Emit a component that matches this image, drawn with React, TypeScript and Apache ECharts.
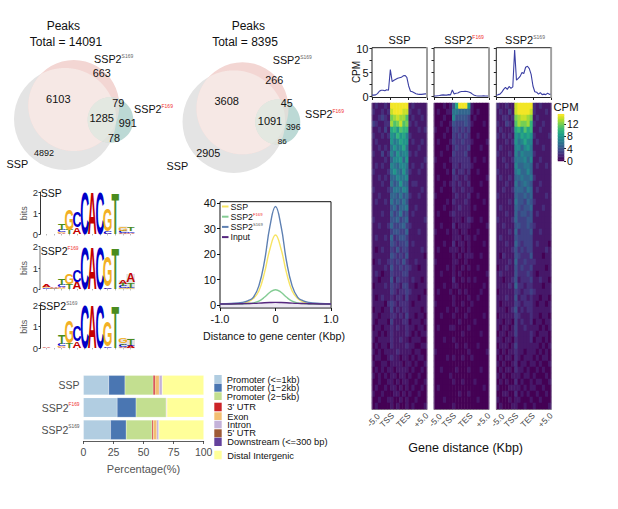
import React, { useEffect, useRef } from "react";
import * as echarts from "echarts";

const FONT = "Liberation Sans";
const VIRIDIS = ["#440154", "#482878", "#3e4989", "#31688e", "#26828e", "#1f9e89", "#35b779", "#6ece58", "#b5de2b", "#fde725"];

// ---------- annotation bars
const barCategories = ["SSP", "SSP2F169", "SSP2S169"];
const featureNames = ["Promoter (<=1kb)", "Promoter (1\u22122kb)", "Promoter (2\u22125kb)", "3' UTR", "Exon", "Intron", "5' UTR", "Downstream (<=300 bp)", "Distal Intergenic"];
const featureColors = ["#b1cde1", "#4a76b2", "#c3df90", "#cc2428", "#f3be72", "#c4b2d9", "#9e5a36", "#63419c", "#ffff99"];
const promoter1 = [21, 28, 22.5];
const promoter2 = [13.5, 15.7, 13];
const promoter5 = [23.5, 25, 21.5];
const utr3 = [1.5, 0.3, 1];
const exon = [3.5, 0.4, 3];
const intron = [2.5, 0.1, 1.7];
const utr5 = [0.1, 0, 0.1];
const downstream = [0, 0, 0];
const distal = [34.4, 30.5, 37.2];
const featureValues = [promoter1, promoter2, promoter5, utr3, exon, intron, utr5, downstream, distal];

// ---------- peak profile
const peakX = [-1, -0.8, -0.6, -0.5, -0.4, -0.3, -0.2, -0.1, 0, 0.1, 0.2, 0.3, 0.4, 0.5, 0.6, 0.8, 1];
const peakSSP = [0.3, 0.4, 0.7, 1.2, 2.5, 5.5, 12.5, 22, 27.5, 22, 12.5, 5.5, 2.5, 1.2, 0.7, 0.4, 0.3];
const peakF169 = [0.3, 0.3, 0.4, 0.5, 0.8, 1.5, 3, 5, 6, 5, 3, 1.5, 0.8, 0.5, 0.4, 0.3, 0.3];
const peakS169 = [0.4, 0.6, 1, 1.6, 3, 7.5, 17, 31, 38.7, 31, 17, 7.5, 3, 1.6, 1, 0.6, 0.4];
const peakInput = [0.4, 0.4, 0.5, 0.55, 0.6, 0.7, 0.85, 0.95, 1, 0.95, 0.85, 0.7, 0.6, 0.55, 0.5, 0.4, 0.4];

// ---------- gene-body CPM profiles
const profileSSP = [0.3, 0.3, 0.35, 0.6, 1.1, 1.3, 1.3, 1.2, 1.4, 1.3, 5.6, 3.1, 3.4, 3.6, 3.8, 3.9, 4.0, 4.3, 4.4, 4.0, 2.2, 1.1, 1.0, 0.8, 0.6, 0.5, 0.45, 0.45, 0.5, 0.55, 0.55];
const profileF169 = [0.1, 0.1, 0.15, 0.2, 0.3, 0.35, 0.3, 0.3, 0.4, 0.35, 1.35, 0.55, 0.7, 0.75, 0.95, 1.05, 1.05, 1.1, 1.05, 0.95, 0.8, 0.5, 0.25, 0.15, 0.1, 0.1, 0.12, 0.15, 0.12, 0.1, 0.1];
const profileS169 = [0.2, 0.4, 0.5, 0.9, 1.5, 1.9, 1.5, 2.1, 1.7, 2.0, 9.7, 3.4, 3.8, 4.2, 5.0, 4.8, 6.1, 6.3, 5.8, 4.6, 2.2, 1.0, 0.9, 0.5, 0.8, 0.4, 0.5, 0.4, 0.7, 0.45, 0.5];
const geneTicks = ["-5.0", "TSS", "TES", "+5.0"];

// ---------- heatmaps (rows top to bottom, 18 bins across -5 kb .. +5 kb)
const heatSSP = [
  [1,2,1,1,2,1,15,15,15,15,15,15,1,2,1,1,1,1],[2,1,1,2,1,2,14,15,15,15,14,14,2,1,1,2,1,1],[1,1,2,3,2,1,12,13,14,13,13,11,1,2,1,1,2,1],
  [3,2,1,1,2,2,13,11,12,14,11,12,2,1,2,1,1,1],[1,1,2,1,3,1,9,10,8,11,10,10,1,1,1,2,1,2],[2,1,1,2,1,2,8,7,10,8,9,7,2,1,1,1,1,1],
  [1,2,1,1,1,1,8,6,7,9,8,8,1,2,1,1,2,1],[1,1,2,1,2,1,6,8,6,7,9,6,1,1,1,2,1,1],[2,1,1,3,1,2,7,5,8,6,7,7,2,1,2,1,1,1],
  [1,1,1,1,2,1,5,7,7,8,5,8,1,1,1,1,1,2],[1,2,1,2,1,1,7,6,5,7,7,6,1,2,1,1,2,1],[2,1,1,1,1,2,6,8,6,5,8,5,2,1,1,2,1,1],
  [1,1,2,1,2,1,5,5,7,6,6,7,1,1,1,1,1,1],[1,1,1,2,1,1,6,4,5,8,5,5,1,2,2,1,1,1],[2,1,1,1,1,2,4,6,6,5,7,6,1,1,1,1,2,1],
  [1,1,2,1,1,1,5,5,4,6,4,5,2,1,1,2,1,1],[1,2,1,1,2,1,6,4,5,4,6,4,1,1,1,1,1,1],[1,1,1,1,1,1,4,5,3,5,5,6,1,1,2,1,1,1],
  [1,1,1,2,1,1,5,3,4,6,3,4,1,2,1,1,1,1],[2,1,1,1,1,1,4,4,5,3,4,5,1,1,1,1,1,2],[1,1,2,1,1,2,5,3,3,4,5,3,2,1,1,1,1,1],
  [1,1,1,1,1,1,3,4,4,3,3,5,1,1,1,2,1,1],[1,2,1,1,2,1,5,2,3,4,4,3,1,1,1,1,1,1],[1,1,1,1,1,1,4,3,2,3,3,4,1,2,1,1,1,1],
  [1,0,1,2,1,1,3,2,4,2,3,3,1,1,1,1,2,1],[1,1,1,1,1,1,4,3,2,3,2,4,1,1,1,1,1,0],[0,1,2,1,1,2,3,2,3,2,4,2,1,1,2,1,1,1],
  [1,1,1,1,2,1,4,2,2,3,2,3,2,1,1,0,1,1],[1,2,1,0,1,1,3,2,2,2,3,3,1,1,1,1,1,1],[1,1,0,1,1,1,4,1,3,2,2,2,1,2,1,1,0,1],
  [0,1,1,1,2,1,3,2,2,1,3,3,1,1,0,1,1,1],[1,1,1,1,1,1,3,2,1,2,2,3,2,1,1,1,1,0],[1,0,1,2,1,1,2,1,2,2,1,3,1,1,1,0,1,1],
  [1,1,1,1,0,2,3,2,1,2,2,2,1,0,1,1,1,1],[0,1,1,0,1,1,3,1,2,1,2,2,1,1,1,1,0,1],[1,1,0,1,1,1,2,2,1,2,1,3,1,1,0,1,1,0],
  [1,0,1,1,1,0,3,1,1,1,2,2,0,1,1,1,0,1],[0,1,1,0,1,1,2,1,2,1,1,2,1,1,0,1,1,0],[1,1,0,1,0,1,2,1,1,1,1,2,1,0,1,0,1,1],
  [1,0,1,1,1,1,2,1,1,2,1,1,0,1,1,1,0,0],[0,1,0,1,1,0,2,1,1,1,1,2,1,1,0,0,1,1],[1,0,1,0,1,1,1,1,2,1,1,1,1,0,1,1,0,0],
  [0,1,1,0,0,1,2,1,1,0,1,1,0,1,0,1,1,0],[1,0,0,1,1,0,1,1,1,1,0,1,1,0,1,0,0,1],[0,1,0,1,0,1,1,0,1,1,1,1,0,1,0,0,1,0],
  [1,0,1,0,1,0,1,1,0,1,1,0,1,0,0,1,0,0],[0,0,1,0,0,1,1,0,1,0,1,1,0,0,1,0,0,1],[0,1,0,0,1,0,1,1,0,1,0,1,0,1,0,0,1,0],
  [1,0,0,1,0,0,0,1,1,0,1,0,1,0,0,1,0,0],[0,0,1,0,0,1,1,0,0,1,0,1,0,0,1,0,0,0],[0,1,0,0,0,0,1,0,1,0,0,1,0,1,0,0,0,1],
];
const heatF169 = [
  [0,0,0,1,0,1,4,9,15,15,15,8,1,0,0,0,0,0],[0,1,0,0,1,1,6,6,5,5,5,5,1,0,1,0,0,0],[0,0,0,1,0,0,7,4,4,4,4,3,0,1,0,0,0,0],
  [0,0,1,0,0,1,4,3,3,3,4,3,1,0,0,0,1,0],[1,0,0,0,1,0,3,3,2,3,2,3,0,0,0,0,0,0],[0,0,0,1,0,0,3,2,3,2,3,2,0,0,1,0,0,0],
  [0,1,0,0,0,1,3,2,2,3,2,2,1,0,0,0,0,1],[0,0,0,0,1,0,2,3,2,2,2,3,0,0,0,1,0,0],[0,0,1,0,0,0,3,2,2,2,3,1,0,0,0,0,0,0],
  [1,0,0,0,0,1,2,2,2,2,2,2,0,1,0,0,1,0],[0,0,0,1,0,0,2,2,1,2,2,2,1,0,0,0,0,0],[0,0,0,0,1,0,3,1,2,2,1,2,0,0,1,0,0,0],
  [0,1,0,0,0,0,2,2,1,1,2,1,0,0,0,0,0,1],[0,0,0,1,0,1,2,1,2,1,1,2,0,0,0,1,0,0],[0,0,1,0,0,0,2,1,1,2,1,1,1,0,0,0,0,0],
  [1,0,0,0,0,0,1,2,1,1,1,2,0,0,1,0,0,0],[0,0,0,0,1,0,2,1,1,1,2,1,0,0,0,0,1,0],[0,0,0,1,0,0,1,1,2,1,1,1,0,1,0,0,0,0],
  [0,1,0,0,0,1,2,1,1,1,1,1,0,0,0,0,0,0],[0,0,0,0,0,0,1,1,1,0,1,2,1,0,0,1,0,0],[0,0,1,0,0,0,2,0,1,1,1,1,0,0,0,0,0,1],
  [1,0,0,0,1,0,1,1,0,1,1,0,0,0,1,0,0,0],[0,0,0,0,0,0,1,1,1,0,1,1,0,1,0,0,0,0],[0,0,0,1,0,0,2,0,1,1,0,1,0,0,0,0,1,0],
  [0,1,0,0,0,1,1,1,0,1,0,1,0,0,0,0,0,0],[0,0,0,0,0,0,1,0,1,0,1,1,1,0,0,1,0,0],[1,0,0,0,0,0,1,1,0,0,1,0,0,0,0,0,0,0],
  [0,0,0,0,1,0,1,0,0,1,0,1,0,0,1,0,0,0],[0,0,1,0,0,0,1,0,1,0,0,0,0,0,0,0,0,1],[0,0,0,0,0,0,2,0,0,1,0,1,0,1,0,0,0,0],
  [0,0,0,1,0,0,1,1,0,0,0,0,0,0,0,0,1,0],[0,1,0,0,0,1,0,0,1,0,1,0,0,0,0,1,0,0],[0,0,0,0,0,0,1,0,0,0,0,1,0,0,1,0,0,0],
  [1,0,0,0,0,0,1,0,0,1,0,0,1,0,0,0,0,0],[0,0,0,0,1,0,0,1,0,0,0,1,0,0,0,0,0,0],[0,0,1,0,0,0,1,0,0,0,1,0,0,0,0,0,1,0],
  [0,0,0,0,0,0,0,0,1,0,0,0,0,1,0,0,0,0],[0,1,0,0,0,1,1,0,0,0,0,1,0,0,0,0,0,0],[0,0,0,0,0,0,0,0,0,1,0,0,0,0,0,1,0,0],
  [0,0,0,1,0,0,1,0,0,0,0,0,0,0,0,0,0,0],[0,0,0,0,0,0,0,1,0,0,1,0,0,0,1,0,0,0],[1,0,0,0,0,0,0,0,0,0,0,1,0,0,0,0,0,1],
  [0,0,0,0,1,0,1,0,0,1,0,0,1,0,0,0,0,0],[0,0,0,0,0,0,0,0,0,0,0,0,0,0,0,0,0,0],[0,0,1,0,0,0,0,1,0,0,0,1,0,0,0,1,0,0],
  [0,0,0,0,0,1,0,0,0,0,0,0,0,0,0,0,0,0],[0,0,0,0,0,0,1,0,0,1,0,0,0,1,0,0,0,0],[0,1,0,0,0,0,0,0,0,0,0,0,0,0,0,0,1,0],
  [0,0,0,0,0,0,0,0,1,0,0,1,0,0,0,0,0,0],[0,0,0,1,0,0,0,0,0,0,0,0,0,0,1,0,0,0],[0,0,0,0,0,0,1,0,0,0,0,0,0,0,0,0,0,0],
];
const heatS169 = [
  [2,1,1,2,1,1,14,15,15,15,15,15,2,1,2,1,1,1],[1,2,1,1,3,1,14,15,15,15,15,14,2,1,1,1,2,1],[1,1,2,2,1,2,12,13,14,14,13,12,1,2,1,1,1,1],
  [2,1,1,3,2,1,11,13,12,12,13,10,2,1,1,2,1,1],[1,2,1,1,1,2,9,10,8,11,9,10,1,1,2,1,1,1],[2,1,2,1,2,1,8,7,9,8,9,8,2,1,1,1,1,2],
  [1,1,1,2,1,2,8,6,7,9,7,7,1,2,1,1,1,1],[1,2,1,1,1,1,7,7,5,7,8,6,1,1,1,2,1,1],[2,1,1,1,2,1,7,5,7,6,6,6,2,1,1,1,1,1],
  [1,1,2,1,1,2,6,6,6,7,5,7,1,1,2,1,1,1],[1,1,1,2,1,1,7,5,5,6,6,5,1,2,1,1,2,1],[2,1,1,1,1,1,6,7,5,5,7,5,1,1,1,1,1,1],
  [1,2,1,1,2,1,5,5,6,5,5,6,2,1,1,1,1,1],[1,1,1,2,1,1,6,4,5,6,5,4,1,1,2,1,1,1],[1,1,2,1,1,2,5,5,5,4,6,5,1,2,1,1,1,1],
  [2,1,1,1,1,1,5,4,4,5,4,5,1,1,1,1,2,1],[1,1,1,1,2,1,6,4,4,3,5,4,2,1,1,1,1,1],[1,2,1,1,1,1,5,4,3,4,4,5,1,1,1,2,1,1],
  [1,1,1,2,1,1,5,3,4,4,3,4,1,2,1,1,1,1],[2,1,1,1,1,2,5,3,3,3,4,4,1,1,1,1,1,1],[1,1,2,1,1,1,4,4,3,3,4,3,2,1,1,1,1,1],
  [1,1,1,1,2,1,5,2,3,3,3,4,1,1,2,1,1,1],[1,2,1,1,1,1,4,3,3,3,3,3,1,1,1,1,1,1],[1,1,1,2,1,1,5,3,2,3,3,3,1,2,1,1,1,0],
  [1,1,1,1,1,2,4,2,3,2,3,3,1,1,1,1,2,1],[1,0,2,1,1,1,4,3,2,2,2,4,1,1,1,0,1,1],[1,1,1,1,2,1,5,2,2,3,2,2,2,1,1,1,1,1],
  [0,1,1,2,1,1,4,2,3,2,2,3,1,1,1,1,0,1],[1,2,1,1,1,1,4,2,2,2,3,2,1,0,1,1,1,1],[1,1,0,1,1,2,4,1,2,2,2,3,1,1,2,1,1,0],
  [1,1,1,1,2,1,5,2,2,1,2,2,1,1,1,0,1,1],[0,1,1,1,1,1,3,2,1,2,2,3,2,1,1,1,1,1],[1,1,1,2,1,1,4,1,2,2,1,2,1,1,0,1,1,0],
  [1,0,1,1,1,1,3,2,1,2,2,2,1,0,1,1,0,1],[1,1,1,0,1,2,4,1,2,1,2,2,1,1,1,1,1,1],[0,1,1,1,1,1,3,2,1,1,1,2,1,1,0,1,1,0],
  [1,1,0,1,1,0,3,1,2,1,1,2,0,1,1,0,1,1],[1,0,1,1,0,1,3,1,1,2,1,1,1,1,0,1,0,1],[0,1,1,0,1,1,3,1,1,1,1,2,1,0,1,1,1,0],
  [1,1,0,1,1,0,2,1,1,1,1,2,0,1,1,0,1,0],[0,1,1,1,0,1,3,1,1,1,1,1,1,1,0,1,0,1],[1,0,1,0,1,1,2,1,1,0,1,1,1,0,1,0,1,0],
  [0,1,0,1,1,0,2,1,0,1,1,1,0,1,0,1,1,0],[1,0,1,0,0,1,2,0,1,1,0,1,1,0,1,0,0,1],[0,1,0,1,1,0,2,1,1,0,1,0,0,1,0,1,0,0],
  [1,0,1,0,0,1,1,1,0,1,1,0,1,0,0,0,1,0],[0,1,0,1,0,0,2,0,1,0,0,1,0,1,1,0,0,1],[1,0,0,0,1,1,1,1,0,1,0,1,1,0,0,1,0,0],
  [0,0,1,1,0,0,2,0,1,0,1,0,0,1,0,0,1,0],[1,0,0,0,1,0,1,1,0,0,0,1,0,0,1,0,0,0],[0,1,0,0,0,1,1,0,0,1,0,0,1,0,0,0,0,1],
];
const colorbarLevels = [0, 0.5, 1, 1.5, 2, 2.5, 3, 3.5, 4, 4.5, 5, 5.5, 6, 6.5, 7, 7.5, 8, 8.5, 9, 9.5, 10, 10.5, 11, 11.5, 12, 12.5, 13, 13.5, 14, 14.5, 15];

// ---------- sequence logos: each position lists [letter, bits] from bottom to top
const logoSSP = [
  [["T", 0.02]], [], [["A", 0.05], ["G", 0.05], ["C", 0.1], ["T", 0.32]], [["T", 0.22], ["G", 1.0]],
  [["A", 0.3], ["C", 0.75]], [["C", 2]], [["A", 2]], [["C", 2]],
  [["A", 0.03], ["C", 0.12], ["G", 1.05]], [["T", 1.95]], [["A", 0.05], ["C", 0.1], ["T", 0.03], ["G", 0.17]], [["A", 0.07], ["C", 0.08], ["T", 0.15]],
];
const logoF169 = [
  [["C", 0.05], ["G", 0.06], ["A", 0.09]], [["C", 0.03], ["G", 0.03], ["A", 0.05]], [["G", 0.05], ["A", 0.05], ["C", 0.1], ["T", 0.3]], [["T", 0.22], ["G", 0.48]],
  [["A", 0.35], ["C", 0.58]], [["C", 2]], [["A", 2]], [["C", 2]],
  [["A", 0.03], ["C", 0.08], ["G", 1.45]], [["T", 1.95]], [["G", 0.05], ["C", 0.1], ["T", 0.1], ["A", 0.17]], [["G", 0.05], ["C", 0.03], ["T", 0.22], ["A", 0.42]],
];
const logoS169 = [
  [["A", 0.03]], [], [["A", 0.05], ["G", 0.03], ["C", 0.1], ["T", 0.42]], [["T", 0.22], ["G", 1.05]],
  [["A", 0.32], ["C", 0.72]], [["C", 2]], [["A", 2]], [["C", 2]],
  [["A", 0.02], ["C", 0.08], ["G", 1.15]], [["T", 1.95]], [["A", 0.04], ["C", 0.1], ["T", 0.08], ["G", 0.25]], [["A", 0.12], ["C", 0.06], ["T", 0.28]],
];
const logoShades = [
  [[11, 0.37]],
  [[11, 0.42], [12, 0.72]],
  [[11, 0.45], [12, 0.45]],
];
const logoBases = ["A", "C", "G", "T"];
const logoBaseColors = ["#c40000", "#0000c8", "#f2b024", "#4a8c1e"];

// ---------- Venn counts
const vennLeft = ["663", "6103", "79", "1285", "991", "78", "4892"];
const vennRight = ["266", "3608", "45", "1091", "396", "86", "2905"];
const vennTotals = ["Total = 14091", "Total = 8395"];

type Circle = [number, number, number];

function regionPoints(circles: Circle[]) {
  const pts: number[][] = [];
  circles.forEach((c, i) => {
    for (let k = 0; k < 720; k++) {
      const a = (k / 720) * Math.PI * 2;
      const x = c[0] + c[2] * Math.cos(a);
      const y = c[1] + c[2] * Math.sin(a);
      const inside = circles.every((o, j) => j === i || Math.hypot(x - o[0], y - o[1]) <= o[2]);
      if (inside) pts.push([x, y]);
    }
  });
  const mx = pts.reduce((s, p) => s + p[0], 0) / pts.length;
  const my = pts.reduce((s, p) => s + p[1], 0) / pts.length;
  return pts.sort((p, q) => Math.atan2(p[1] - my, p[0] - mx) - Math.atan2(q[1] - my, q[0] - mx));
}

function txt(x: number, y: number, text: string, size: number, extra: any = {}, rotation = 0) {
  return {
    type: "text", x, y, rotation, z: 20, silent: true,
    style: { text, fontSize: size, fontFamily: FONT, fill: "#111", align: "center", verticalAlign: "middle", ...extra },
  };
}

function sup(x: number, y: number, base: string, tag: string, size: number, align = "left", baseFill = "#111") {
  return {
    type: "text", x, y, z: 20, silent: true,
    style: {
      text: `{a|${base}}{b|${tag}}`, align, verticalAlign: "middle", fontFamily: FONT,
      rich: {
        a: { fontSize: size, fontFamily: FONT, fill: baseFill },
        b: { fontSize: size * 0.46, fontFamily: FONT, fill: tag[0] === "F" ? "#f03030" : "#666", verticalAlign: "top" },
      },
    },
  };
}

function venn(gray: Circle, pink: Circle, teal: Circle) {
  const disc = (c: Circle, fill: string) => ({ type: "circle", z: 5, silent: true, shape: { cx: c[0], cy: c[1], r: c[2] }, style: { fill } });
  const poly = (cs: Circle[], fill: string) => ({ type: "polygon", z: 5, silent: true, shape: { points: regionPoints(cs) }, style: { fill } });
  return [
    disc(gray, "#e4e4e4"),
    disc(pink, "#f3d6d3"),
    disc(teal, "#bcd9d5"),
    poly([gray, pink], "#f6e8e5"),
    poly([pink, teal], "#e0ded9"),
    poly([gray, teal], "#e0e3dd"),
    poly([gray, pink, teal], "#e3e8e1"),
  ];
}

function logoRows(logo: any[], shade: number[][]) {
  const rows: number[][] = shade.map((s) => [s[0], 0, s[1], -1]);
  logo.forEach((stack: any[], i: number) => {
    let y = 0;
    stack.forEach(([letter, bits]: [string, number]) => {
      rows.push([i + 1, y, y + bits, logoBases.indexOf(letter)]);
      y += bits;
    });
  });
  return rows;
}

function renderLogo(_p: any, api: any) {
  const pos = api.value(0);
  const [cx, b] = api.coord([pos, api.value(1)]);
  const [, t] = api.coord([pos, api.value(2)]);
  const idx = api.value(3);
  if (idx < 0) {
    const w = api.size([1, 0])[0];
    return { type: "rect", shape: { x: cx - w / 2 - 0.5, y: t, width: w + 1, height: b - t }, style: { fill: "#e3e3e3" } };
  }
  return {
    type: "text", x: cx, y: (b + t) / 2, scaleX: 0.62, scaleY: (b - t) / 14.3,
    style: { text: logoBases[idx], x: 0, y: 0, align: "center", verticalAlign: "middle", fontSize: 20, fontWeight: "bold", fontFamily: FONT, fill: logoBaseColors[idx] },
  };
}

function buildOption() {
  const grid: any[] = [];
  const xAxis: any[] = [];
  const yAxis: any[] = [];
  const series: any[] = [];
  const graphic: any[] = [];
  const box = (x0: number, y0: number, x1: number, y1: number, extra: any = {}) => {
    grid.push({ left: x0, top: y0, width: x1 - x0, height: y1 - y0, ...extra });
    return grid.length - 1;
  };
  const noLine = { show: false, onZero: false };

  // annotation bars
  const g0 = box(83.5, 374, 203.7, 441);
  xAxis.push({
    gridIndex: g0, type: "value", position: "bottom", min: 0, max: 100, interval: 25, splitLine: { show: false },
    axisLine: { show: true, onZero: false, lineStyle: { color: "#333", width: 0.8 } },
    axisTick: { show: true, length: 3, lineStyle: { color: "#333", width: 0.8 } },
    axisLabel: { fontSize: 10.5, color: "#4d4d4d", fontFamily: FONT, margin: 5 },
  });
  yAxis.push({
    gridIndex: g0, type: "category", inverse: true, data: barCategories,
    axisLine: noLine, axisTick: { show: false },
    axisLabel: {
      margin: 4,
      formatter: (v: string) => (v.length > 4 ? `{a|${v.slice(0, 4)}}{${v[4] === "F" ? "b" : "c"}|${v.slice(4)}}` : `{a|${v}}`),
      rich: {
        a: { fontSize: 10.5, color: "#4d4d4d", fontFamily: FONT },
        b: { fontSize: 4.8, color: "#f03030", fontFamily: FONT, verticalAlign: "top" },
        c: { fontSize: 4.8, color: "#555", fontFamily: FONT, verticalAlign: "top" },
      },
    },
  });
  featureNames.forEach((name, i) => {
    series.push({
      type: "bar", name, xAxisIndex: 0, yAxisIndex: 0, stack: "peaks", barWidth: "87%",
      data: featureValues[i], itemStyle: { color: featureColors[i], borderColor: "#fff", borderWidth: 0.2 },
    });
  });

  // peak profile
  const g1 = box(220, 201.7, 331, 308, { show: true, borderColor: "#111", borderWidth: 1, backgroundColor: "transparent" });
  xAxis.push({
    gridIndex: g1, type: "value", position: "bottom", min: -1, max: 1, interval: 1, splitLine: { show: false },
    axisLine: noLine,
    axisTick: { length: 3, lineStyle: { color: "#111" } },
    axisLabel: { fontSize: 11, color: "#111", fontFamily: FONT, margin: 5, formatter: (v: number) => (v === 0 ? "0" : v.toFixed(1)) },
  });
  yAxis.push({
    gridIndex: g1, type: "value", position: "left", min: -1.2, max: 40.6, splitLine: { show: false },
    axisLine: noLine,
    axisTick: { show: true, length: 3, customValues: [0, 10, 20, 30, 40], lineStyle: { color: "#111" } },
    axisLabel: { fontSize: 11, color: "#111", fontFamily: FONT, margin: 4, customValues: [0, 10, 20, 30, 40] },
  });
  const peakNames = ["SSP", "SSP2F169", "SSP2S169", "Input"];
  const peakColors = ["#f7e463", "#84cc94", "#5e80b2", "#56277f"];
  const peakValues = [peakSSP, peakF169, peakS169, peakInput];
  peakNames.forEach((name, i) => {
    series.push({
      type: "line", name, xAxisIndex: 1, yAxisIndex: 1, smooth: 0.45, symbol: "none",
      data: peakX.map((x, k) => [x, peakValues[i][k]]),
      lineStyle: { color: peakColors[i], width: 1.4 }, itemStyle: { color: peakColors[i] },
      ...(name === "Input" ? { areaStyle: { color: "#b9a7cf", opacity: 0.25, origin: "start" } } : {}),
    });
  });

  // gene-body profiles + heatmaps
  const px = [[372, 427], [434, 489], [496.3, 551.3]];
  const profiles = [profileSSP, profileF169, profileS169];
  const heats = [heatSSP, heatF169, heatS169];
  const heatSeries: number[] = [];
  const geneLabelShift = [1.4, -3.5, -5.3, -6];
  px.forEach(([a, b], i) => {
    const g = box(a, 47.7, b, 97.5, { show: true, borderColor: "#222", borderWidth: 1, backgroundColor: "transparent" });
    const xi = xAxis.length;
    xAxis.push({
      gridIndex: g, type: "value", position: "bottom", min: 0, max: 30, interval: 10, splitLine: { show: false },
      axisLine: noLine, axisTick: { length: 2.5, lineStyle: { color: "#222" } }, axisLabel: { show: false },
    });
    const yi = yAxis.length;
    yAxis.push({
      gridIndex: g, type: "value", position: "left", min: -0.2, max: 10.17, splitLine: { show: false }, axisLine: noLine,
      axisTick: { show: true, length: 2.5, customValues: [0, 2.5, 5, 7.5, 10], lineStyle: { color: "#222" } },
      axisLabel: i === 0 ? { fontSize: 11, color: "#111", fontFamily: FONT, margin: 3.5, customValues: [0, 5, 10] } : { show: false },
    });
    series.push({
      type: "line", xAxisIndex: xi, yAxisIndex: yi, symbol: "none",
      data: profiles[i].map((v, k) => [k, v]), lineStyle: { color: "#3b3fa3", width: 1.1 },
    });

    const h = box(a, 103, b, 409);
    const hx = xAxis.length;
    xAxis.push({ gridIndex: h, type: "category", show: false, data: heats[i][0].map((_, c) => c) });
    const hy = yAxis.length;
    yAxis.push({ gridIndex: h, type: "category", show: false, inverse: true, data: heats[i].map((_, r) => r) });
    xAxis.push({
      gridIndex: h, type: "value", position: "bottom", min: 0, max: 18, interval: 6, splitLine: { show: false },
      axisLine: { show: true, onZero: false, lineStyle: { color: "#777", width: 0.8 } },
      axisTick: { length: 2.5, lineStyle: { color: "#666" } },
      axisLabel: { show: false },
    });
    geneTicks.forEach((label, k) => {
      graphic.push(txt(a + (k * (b - a)) / 3 + geneLabelShift[k], 420, label, 8.4, { fill: "#444" }, Math.PI / 4));
    });
    heatSeries.push(series.length);
    const cells: number[][] = [];
    heats[i].forEach((row, r) => row.forEach((v, c) => cells.push([c, r, v])));
    series.push({ type: "heatmap", xAxisIndex: hx, yAxisIndex: hy, data: cells, itemStyle: { borderWidth: 0 }, emphasis: { disabled: true } });
    graphic.push(
      { type: "line", z: 15, silent: true, shape: { x1: a, y1: 103, x2: a, y2: 409 }, style: { stroke: "#8f7ea3", lineWidth: 0.9 } },
      { type: "line", z: 15, silent: true, shape: { x1: b, y1: 103, x2: b, y2: 409 }, style: { stroke: "#8f7ea3", lineWidth: 0.9 } },
      { type: "rect", z: 15, silent: true, shape: { x: b - 1, y: 47.2, width: 1.8, height: 50.6 }, style: { fill: "#a0a0a0" } },
    );
  });

  // colour bar
  const gc = box(558, 114.2, 564, 161);
  const cx = xAxis.length;
  xAxis.push({ gridIndex: gc, type: "category", show: false, data: [0] });
  const cy = yAxis.length;
  yAxis.push({ gridIndex: gc, type: "category", show: false, data: colorbarLevels.map(String) });
  yAxis.push({
    gridIndex: gc, type: "value", position: "right", min: 0, max: 15.25, splitLine: { show: false }, axisLine: noLine,
    axisTick: { show: true, length: 2, customValues: [0, 4, 8, 12], lineStyle: { color: "#222" } },
    axisLabel: { fontSize: 10.5, color: "#111", fontFamily: FONT, margin: 3, customValues: [0, 4, 8, 12] },
  });
  heatSeries.push(series.length);
  series.push({
    type: "heatmap", xAxisIndex: cx, yAxisIndex: cy, emphasis: { disabled: true },
    data: colorbarLevels.map((v, r) => [0, r, v]), itemStyle: { borderWidth: 0 },
  });

  // logos
  const logoBoxes = [[192, 234.3], [246.7, 289.3], [305, 348.3]];
  const logos = [logoSSP, logoF169, logoS169];
  logoBoxes.forEach(([t, bt], i) => {
    const g = box(40, t, 134.5, bt);
    const xi = xAxis.length;
    xAxis.push({
      gridIndex: g, type: "value", position: "bottom", min: 0.17, max: 12.5, splitLine: { show: false }, axisLine: noLine,
      axisTick: { show: true, length: 1, customValues: [1, 2, 3, 4, 5, 6, 7, 8, 9, 10, 11, 12], lineStyle: { color: "#999" } },
      axisLabel: { show: false },
    });
    const yi = yAxis.length;
    yAxis.push({
      gridIndex: g, type: "value", position: "left", min: 0, max: 2, interval: 1, splitLine: { show: false },
      name: "bits", nameLocation: "middle", nameGap: 12, nameRotate: 90,
      nameTextStyle: { fontSize: 9, color: "#555", fontFamily: FONT },
      axisLine: { show: true, onZero: false, lineStyle: { color: i === 1 ? "#a5a5a5" : "#333", width: i === 1 ? 1.6 : 1 } },
      axisTick: { show: true, length: 1.5, lineStyle: { color: "#333" } },
      axisLabel: { fontSize: 9.5, color: "#333", fontFamily: FONT, margin: 2 },
    });
    series.push({
      type: "custom", xAxisIndex: xi, yAxisIndex: yi, renderItem: renderLogo, silent: true,
      encode: { x: 0, y: [1, 2] }, data: logoRows(logos[i], logoShades[i]), clip: false,
    });
  });

  // venn diagrams
  graphic.push(
    ...venn([65, 119, 51], [73.8, 105.5, 45.5], [110.5, 120, 22.8]),
    ...venn([233.8, 121.7, 51.3], [242.5, 108.3, 46], [277.8, 122, 22.5]),
  );
  const leftPos: number[][] = [[101.7, 73.3, 10.8], [58.3, 99, 11], [118.3, 102.7, 10.8], [101.7, 118.3, 11], [127.7, 123.3, 10.8], [114, 138, 10.8], [44, 152.7, 9]];
  const rightPos: number[][] = [[274.3, 80, 10.8], [226.7, 101, 11], [286.7, 103.3, 10.8], [270, 121, 11], [293.3, 126.7, 8.8], [282.3, 141.7, 8], [208.3, 153.3, 10.8]];
  vennLeft.forEach((v, i) => graphic.push(txt(leftPos[i][0], leftPos[i][1], v, leftPos[i][2])));
  vennRight.forEach((v, i) => graphic.push(txt(rightPos[i][0], rightPos[i][1], v, rightPos[i][2])));
  graphic.push(
    txt(63.3, 25.7, "Peaks", 12), txt(66, 41.7, vennTotals[0], 12),
    txt(248.3, 25.7, "Peaks", 12), txt(245, 41.7, vennTotals[1], 12),
    sup(94, 59.3, "SSP2", "S169", 10.8), sup(134, 109.3, "SSP2", "F169", 10.8), txt(17.3, 164, "SSP", 10.8),
    sup(272.7, 60, "SSP2", "S169", 10.8), sup(305, 114, "SSP2", "F169", 10.8), txt(177.3, 166, "SSP", 10.8),
  );

  // logo names
  graphic.push(
    txt(40.7, 193, "SSP", 10.5, { align: "left" }),
    sup(40.7, 251, "SSP2", "F169", 10.5),
    sup(39.3, 306, "SSP2", "S169", 10.5),
  );

  // panel titles and axis names
  graphic.push(
    txt(399.5, 40, "SSP", 11),
    sup(464, 40, "SSP2", "F169", 11, "center"),
    sup(525, 40, "SSP2", "S169", 11, "center"),
    txt(356.5, 72, "CPM", 10, {}, Math.PI / 2),
    txt(566, 107, "CPM", 11.3),
    txt(465.7, 448, "Gene distance (Kbp)", 12.5),
    txt(274, 335.7, "Distance to gene center (Kbp)", 10.7),
    txt(143.5, 469, "Percentage(%)", 11, { fill: "#555" }),
  );

  // annotation legend
  const legendRows = [
    [375, 383.3, 379.7], [383.7, 391.7, 387.7], [392.3, 400, 396.7], [402.7, 411.3, 407.3], [412.3, 420, 416.7],
    [420.7, 428.3, 425], [429.3, 437.3, 433.3], [437.7, 446, 442.3], [450.7, 459.3, 455.7],
  ];
  featureNames.forEach((name, i) => {
    const [y0, y1, ty] = legendRows[i];
    graphic.push({ type: "rect", z: 15, silent: true, shape: { x: 214.3, y: y0, width: 7.4, height: y1 - y0 }, style: { fill: featureColors[i] } });
    graphic.push(txt(i < 3 ? 226.7 : 227.3, ty, name, 9.3, { align: "left" }));
  });

  return {
    animation: false,
    backgroundColor: "#fff",
    grid, xAxis, yAxis, series, graphic,
    visualMap: {
      type: "continuous", show: false, min: 0, max: 15.25, dimension: 2,
      seriesIndex: heatSeries, inRange: { color: VIRIDIS },
    },
    legend: {
      orient: "vertical", left: 222, top: 202, itemWidth: 6.5, itemHeight: 2, itemGap: 1.2, icon: "rect", padding: 0,
      data: peakNames, selectedMode: false,
      formatter: (v: string) => (v.length > 4 && v !== "Input" ? `{a|${v.slice(0, 4)}}{${v[4] === "F" ? "b" : "c"}|${v.slice(4)}}` : `{a|${v}}`),
      textStyle: {
        padding: [0, 0, 0, -3],
        rich: {
          a: { fontSize: 8.8, color: "#111", fontFamily: FONT, height: 9 },
          b: { fontSize: 4.2, color: "#f03030", fontFamily: FONT, verticalAlign: "top" },
          c: { fontSize: 4.2, color: "#555", fontFamily: FONT, verticalAlign: "top" },
        },
      },
    },
  };
}

export default function App() {
  const ref = useRef<HTMLDivElement>(null);
  useEffect(() => {
    const chart = echarts.init(ref.current!, undefined, { renderer: "svg" });
    chart.setOption(buildOption() as any);
    return () => chart.dispose();
  }, []);
  return <div ref={ref} style={{ position: "fixed", left: 0, top: 0, width: 618, height: 509 }} />;
}
